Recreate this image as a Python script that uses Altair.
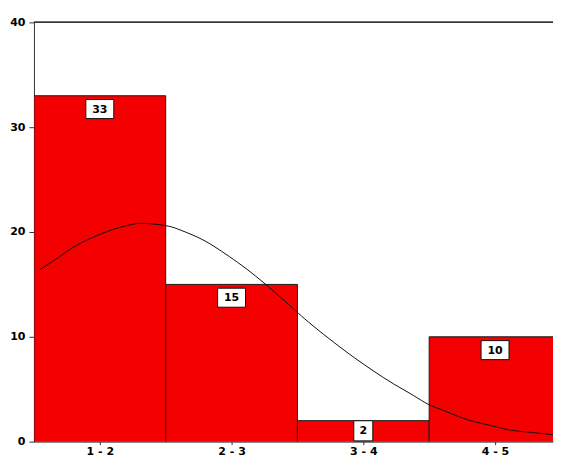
import altair as alt
import pandas as pd

# Histogram bins
categories = ["1 - 2", "2 - 3", "3 - 4", "4 - 5"]
bin_start = [1, 2, 3, 4]
bin_end = [2, 3, 4, 5]
counts = [33, 15, 2, 10]

# Overlay curve
curve_x = [1.045, 1.194, 1.343, 1.567, 1.716, 1.828, 1.993, 2.090, 2.239, 2.366,
           2.485, 2.612, 2.761, 2.910, 3.007, 3.119, 3.284, 3.433, 3.582, 3.731,
           3.881, 3.993, 4.104, 4.231, 4.351, 4.478, 4.604, 4.724, 4.940]
curve_y = [16.42, 17.64, 18.86, 20.10, 20.64, 20.83, 20.62, 20.29, 19.52, 18.64,
           17.64, 16.49, 14.98, 13.35, 12.25, 11.04, 9.40, 8.00, 6.70, 5.50,
           4.40, 3.56, 3.00, 2.35, 1.88, 1.50, 1.13, 0.94, 0.66]

tick_pos = [1.5, 2.5, 3.5, 4.5]

bars = pd.DataFrame({"cat": categories, "start": bin_start, "end": bin_end, "count": counts})
bars["mid"] = (bars["start"] + bars["end"]) / 2
bars["label"] = bars["count"].astype(str)
wide_box = "M-1,-0.68L1,-0.68L1,0.68L-1,0.68Z"
narrow_box = "M-0.68,-0.72L0.68,-0.72L0.68,0.72L-0.68,0.72Z"
bars["shape"] = [wide_box if len(s) > 1 else narrow_box for s in bars["label"]]
curve = pd.DataFrame({"x": curve_x, "y": curve_y})

label_expr = " : ".join(
    [f"datum.value == {p} ? '{c}'" for p, c in zip(tick_pos, categories)]
) + " : ''"

xscale = alt.Scale(domain=[1, 4.94], nice=False, zero=False)
yscale = alt.Scale(domain=[0, 40], nice=False)

xaxis = alt.Axis(values=tick_pos, labelExpr=label_expr, title=None, grid=False,
                 tickSize=3, labelPadding=1, labelFont="DejaVu Sans",
                 labelFontWeight="bold", labelFontSize=11, labelColor="#000",
                 domainColor="#333", tickColor="#333", labelFlush=False)
yaxis = alt.Axis(values=[0, 10, 20, 30, 40], title=None, grid=False,
                 tickSize=5, labelPadding=4, labelFont="DejaVu Sans",
                 labelFontWeight="bold", labelFontSize=11, labelColor="#000",
                 domainColor="#333", tickColor="#333")

base = alt.Chart(bars)

rects = base.mark_rect(fill="#f40000", stroke="#1a1a1a", strokeWidth=1, clip=True).encode(
    x=alt.X("start:Q", scale=xscale, axis=xaxis),
    x2="end:Q",
    y=alt.Y("count:Q", scale=yscale, axis=yaxis),
    y2=alt.datum(0),
)

top_rule = base.mark_rule(color="#333", strokeWidth=1.2).encode(
    y=alt.datum(40, scale=yscale),
    x=alt.value(0),
    x2=alt.value(520),
)

line = alt.Chart(curve).mark_line(color="#111", strokeWidth=1, interpolate="natural", clip=True).encode(
    x=alt.X("x:Q", scale=xscale),
    y=alt.Y("y:Q", scale=yscale),
)

boxes = base.transform_calculate(
    ly="max(datum.count - 1.27, 1.03)"
).mark_point(filled=False, fill="white", fillOpacity=1, stroke="#111", strokeWidth=1,
             size=784, opacity=1).encode(
    x=alt.X("mid:Q", scale=xscale),
    y=alt.Y("ly:Q", scale=yscale),
    shape=alt.Shape("shape:N", scale=None),
)

texts = base.transform_calculate(
    ly="max(datum.count - 1.27, 1.03)"
).mark_text(font="DejaVu Sans", fontWeight="bold", fontSize=11, color="#000",
            baseline="middle", dy=0.5).encode(
    x=alt.X("mid:Q", scale=xscale),
    y=alt.Y("ly:Q", scale=yscale),
    text="label:N",
)

chart = alt.layer(rects, top_rule, line, boxes, texts).properties(
    width=520, height=420,
    padding={"left": 1, "top": 8, "right": 0, "bottom": 0},
    background="white",
).configure_view(stroke=None)

chart.save("out.html", embed_options={"renderer": "svg", "actions": False})
